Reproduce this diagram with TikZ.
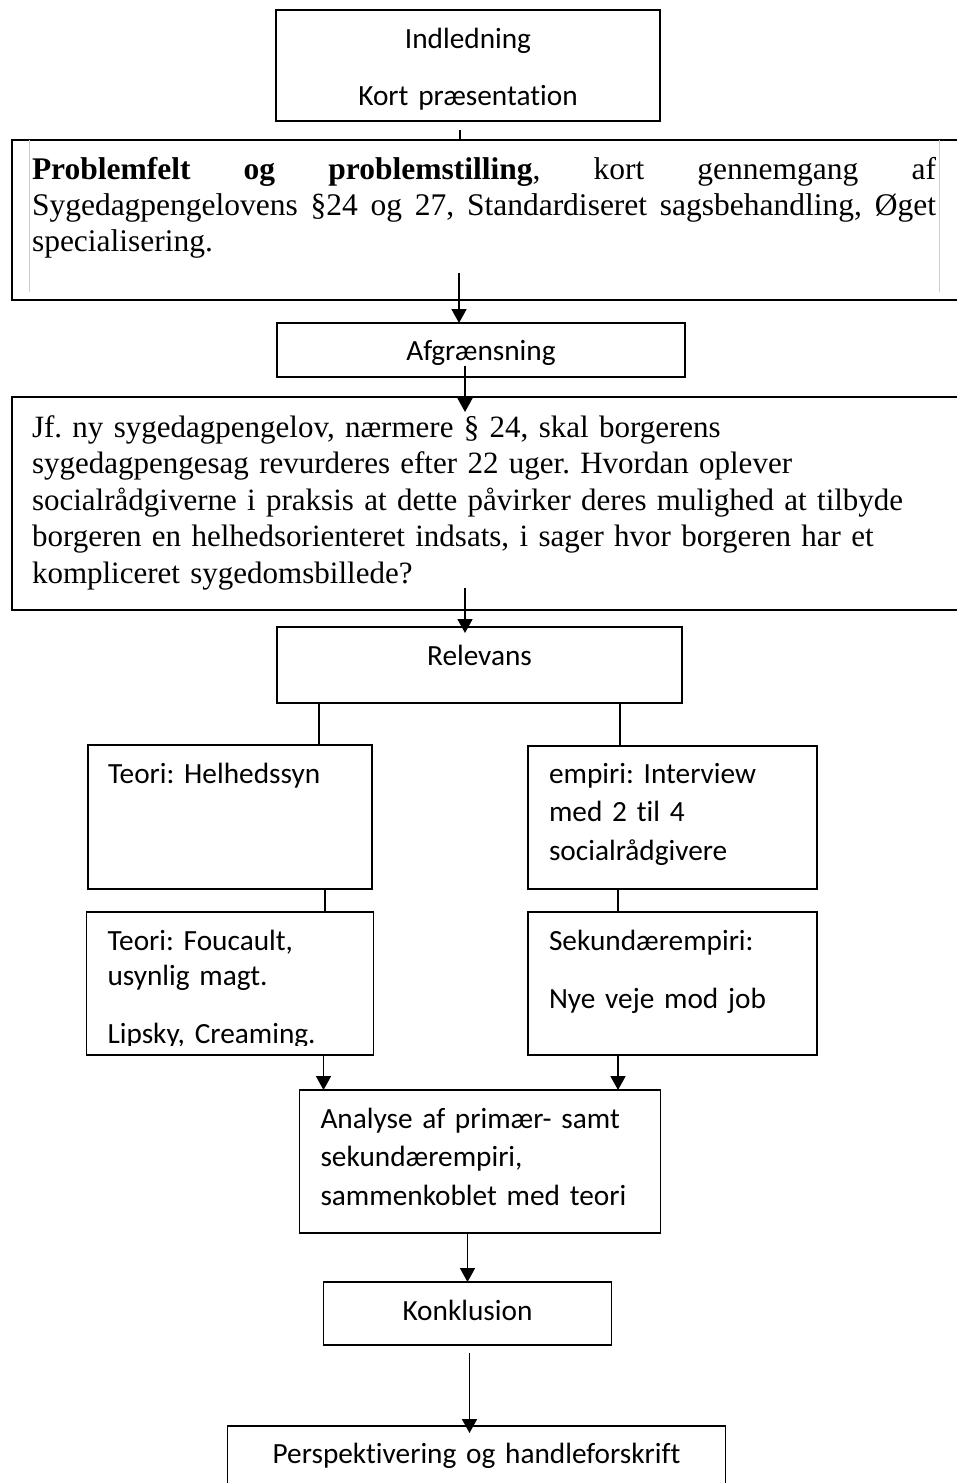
\documentclass[tikz,border=0pt]{standalone}
\usepackage{fontspec}
\setmainfont{Liberation Serif}
\newfontfamily\calibri[Ligatures=NoCommon]{Carlito}
\usetikzlibrary{positioning,arrows.meta}
\frenchspacing

\begin{document}
\begin{tikzpicture}[line width=1.8pt, >={Triangle[length=14pt,width=15pt]},
	nodes={draw, line width=1.8pt, outer sep=0pt, inner ysep=0pt, font=\calibri\fontsize{29.3pt}{38.5pt}\selectfont}]
		\useasboundingbox (0pt,0pt) rectangle (956pt,-1483pt);
		\node (indl) [text width=364pt, inner xsep=10pt, align=center, text height=38pt, text depth=73pt] at (468pt,-65.5pt) {Indledning\\[18.5pt]Kort præsentation};
		\node (probl) [below=19pt of indl, xshift=26pt, text width=924pt, inner xsep=20pt, align=justify, text height=39pt, text depth=121pt, font=\rmfamily\fontsize{31.5pt}{36pt}\selectfont] {\parbox[t]{904pt}{\spaceskip=0pt\xspaceskip=0pt\rightskip=0pt\relax \textbf{Problemfelt og problemstilling}, kort gennemgang af\linebreak Sygedagpengelovens §24 og 27, Standardiseret sagsbehandling, Øget\linebreak specialisering.}};
		\node (afgr) [below=23pt of probl, xshift=-13pt, text width=388pt, inner xsep=10pt, align=center, text height=37pt, text depth=17pt] {Afgrænsning};
		\node (jf) [below=20pt of afgr, xshift=13pt, text width=924pt, inner xsep=20pt, align=left, text height=40pt, text depth=173pt, font=\rmfamily\fontsize{31pt}{36.5pt}\selectfont] {Jf. ny sygedagpengelov, nærmere § 24, skal borgerens\\ sygedagpengesag revurderes efter 22 uger. Hvordan oplever\\ socialrådgiverne i praksis at dette påvirker deres mulighed at tilbyde\\ borgeren en helhedsorienteret indsats, i sager hvor borgeren har et\\ kompliceret sygedomsbillede?};
		\node (relev) [below=17pt of jf, xshift=-14.5pt, text width=385pt, inner xsep=10pt, align=center, text height=38pt, text depth=38pt] {Relevans};
		\node (helhed) [below=42pt of relev, xshift=-249.5pt, text width=244pt, inner xsep=20pt, align=left, text height=38pt, text depth=106pt] {Teori: Helhedssyn};
		\node (empiri) [below=43pt of relev, xshift=193pt, text width=247pt, inner xsep=21pt, align=left, text height=37pt, text depth=106pt] {empiri: Interview\\ med 2 til 4\\ socialrådgivere};
		\node (foucault) [below=23pt of helhed, text width=245pt, inner xsep=21pt, align=left, text height=38pt, text depth=105pt] {Teori: Foucault,\\[-3.5pt] usynlig magt.\\[19.5pt] Lipsky, Creaming.};
		\node (sekund) [below=23pt of empiri, text width=247pt, inner xsep=21pt, align=left, text height=38pt, text depth=105pt] {Sekundærempiri:\\[19.5pt] Nye veje mod job};
		\node (analyse) [below=35pt of foucault, xshift=250pt, text width=319pt, inner xsep=21pt, align=left, text height=38pt, text depth=105pt] {Analyse af primær- samt\\ sekundærempiri,\\ sammenkoblet med teori};
		\node (konkl) [below=49pt of analyse, xshift=-12.5pt, text width=268pt, inner xsep=10pt, align=center, text height=38pt, text depth=25pt] {Konklusion};
		\node (persp) [below=81pt of konkl, xshift=9pt, text width=478pt, inner xsep=10pt, align=center, text height=37pt, text depth=43pt] {Perspektivering og handleforskrift};
		\draw[line width=0.8pt, gray!40] ([xshift=17pt]probl.north west) -- ([xshift=17pt, yshift=8pt]probl.south west);
		\draw[line width=0.8pt, gray!40] ([xshift=-37pt]probl.north east) -- ([xshift=-37pt, yshift=8pt]probl.south east);
		\fill[white] ([xshift=1pt, yshift=1pt]foucault.south west) rectangle ([xshift=-1pt, yshift=9pt]foucault.south east);
		\coordinate (a1) at ([xshift=-8pt, yshift=-9pt]indl.south);
		\coordinate (b1) at ([xshift=-35pt, yshift=27pt]probl.south);
		\coordinate (c1) at ([xshift=-16pt, yshift=11pt]afgr.south);
		\coordinate (d1) at ([xshift=-29pt, yshift=22pt]jf.south);
		\coordinate (e1) at ([xshift=-160.5pt]relev.south);
		\coordinate (e2) at ([xshift=140.5pt]relev.south);
		\coordinate (f1) at ([xshift=95pt]helhed.south);
		\coordinate (g1) at ([xshift=-54.5pt]empiri.south);
		\coordinate (h1) at ([xshift=93.5pt]foucault.south);
		\coordinate (i1) at ([xshift=-54.5pt]sekund.south);
		\coordinate (k1) at ([xshift=2pt, yshift=-8pt]konkl.south);
		\draw (a1) -- (a1 |- probl.north);
		\draw[->] (b1) -- (b1 |- afgr.north);
		\draw[->] (c1) -- ([yshift=-15pt]c1 |- jf.north);
		\draw[->] (d1) -- ([yshift=-6pt]d1 |- relev.north);
		\draw (e1) -- (e1 |- helhed.north);
		\draw (e2) -- (e2 |- empiri.north);
		\draw (f1) -- (f1 |- foucault.north);
		\draw (g1) -- (g1 |- sekund.north);
		\draw[->] (h1) -- (h1 |- analyse.north);
		\draw[->] (i1) -- (i1 |- analyse.north);
		\draw[->] (analyse.south -| konkl.north) -- (konkl.north);
		\draw[->] (k1) -- ([yshift=-7pt]k1 |- persp.north);
		\end{tikzpicture}
\end{document}
